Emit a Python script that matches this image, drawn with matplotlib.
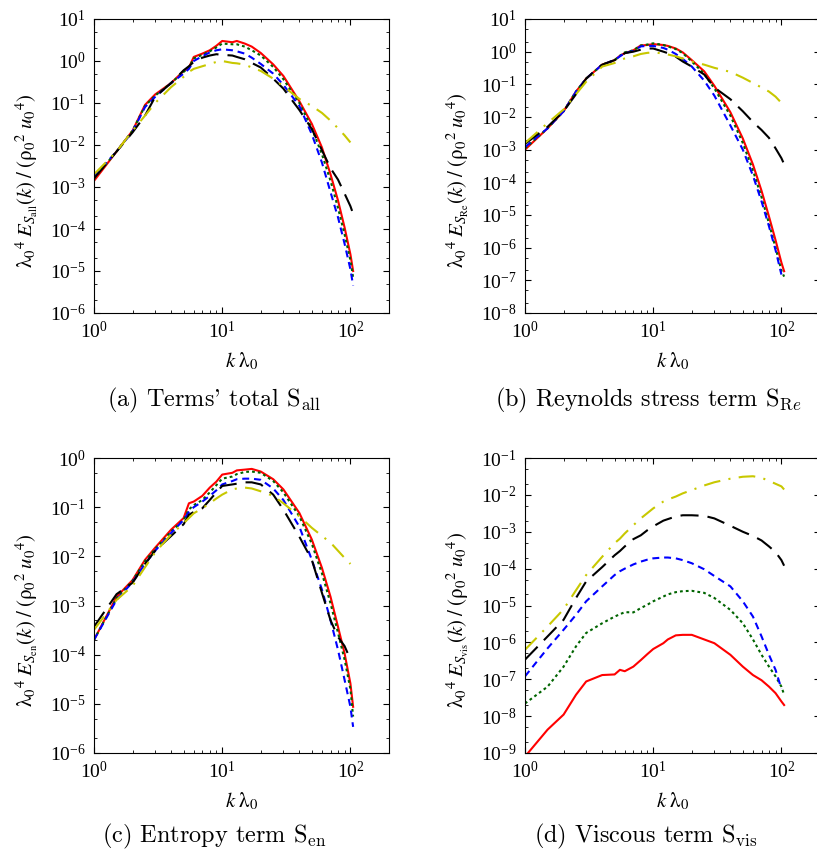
import numpy as np
import matplotlib
matplotlib.use("Agg")
import matplotlib.pyplot as plt
from matplotlib.ticker import LogLocator, LogFormatterMathtext, NullFormatter

plt.rcParams["font.family"] = "serif"
plt.rcParams["font.serif"] = ["Liberation Serif", "DejaVu Serif"]
plt.rcParams["mathtext.fontset"] = "stix"
plt.rcParams["lines.scale_dashes"] = False

# ── Data ─────────────────────────────────────────────────────────────────────
K = [1, 1.5, 2, 2.5, 3, 4, 5, 5.5, 6, 7, 8, 9, 10, 12, 13, 15, 17, 20,
     25, 30, 40, 50, 60, 70, 80, 90, 100, 105]
nan = np.nan

# (a) terms' total
a_red = [1.4e-3, 7e-3, 0.022, 0.09, 0.16, 0.3, 0.58, 0.7, 1.25, 1.5, 1.8, 2.3, 3.0, 2.8,
         3.0, 2.6, 2.2, 1.55, 0.83, 0.44, 0.11, 0.032, 8.7e-3, 2e-3, 4.8e-4, 1.1e-4, 2.5e-5, 1e-5]
a_green = [1.6e-3, 7e-3, 0.022, 0.085, 0.15, 0.3, 0.55, 0.7, 1.15, 1.4, 1.7, 2.1, 2.6, 2.5,
           2.5, 2.2, 1.8, 1.35, 0.72, 0.37, 0.1, 0.025, 6e-3, 1.4e-3, 3.2e-4, 7.5e-5, 1.8e-5, 7e-6]
a_blue = [1.8e-3, 7e-3, 0.021, 0.08, 0.14, 0.3, 0.5, 0.65, 1.0, 1.3, 1.6, 1.8, 1.9, 1.8,
          1.7, 1.5, 1.2, 0.85, 0.5, 0.27, 0.085, 0.018, 3.8e-3, 7.5e-4, 1.9e-4, 4.5e-5, 1.1e-5, 4.5e-6]
a_black = [1.6e-3, 7e-3, 0.02, 0.05, 0.14, 0.3, 0.6, 0.75, 0.95, 1.2, 1.35, 1.45, 1.4, 1.35,
           1.25, 1.1, 0.9, 0.7, 0.38, 0.22, 0.068, 0.024, 7.5e-3, 2.8e-3, 1.5e-3, 7e-4, 3.5e-4, 2.3e-4]
a_yellow = [2e-3, 7e-3, 0.022, 0.05, 0.1, 0.24, 0.42, 0.55, 0.65, 0.75, 0.85, 0.95, 1.0, 0.9,
            0.88, 0.82, 0.7, 0.58, 0.38, 0.25, 0.125, 0.085, 0.058, 0.038, 0.025, 0.017, 0.0115, nan]

# (b) Reynolds stress term
b_red = [1e-3, 4.5e-3, 0.015, 0.06, 0.15, 0.4, 0.55, 0.75, 0.9, 1.1, 1.55, 1.6, 1.7, 1.6,
         1.5, 1.25, 0.95, 0.55, 0.25, 0.09, 0.014, 2.2e-3, 3.5e-4, 5.5e-5, 9e-6, 1.7e-6, 3.5e-7, 1.9e-7]
b_green = [1.1e-3, 4.5e-3, 0.015, 0.06, 0.15, 0.4, 0.55, 0.75, 0.95, 1.1, 1.55, 1.65, 1.8, 1.6,
           1.45, 1.2, 0.9, 0.5, 0.21, 0.075, 0.011, 1.6e-3, 2.3e-4, 3.5e-5, 5.5e-6, 1e-6, 2e-7, 1.3e-7]
b_blue = [1.2e-3, 4.5e-3, 0.015, 0.06, 0.15, 0.4, 0.55, 0.72, 0.9, 1.05, 1.45, 1.5, 1.5, 1.3,
          1.15, 0.85, 0.6, 0.35, 0.13, 0.045, 5.5e-3, 1e-3, 1.6e-4, 2.6e-5, 4.5e-6, 8.5e-7, 1.5e-7, nan]
b_black = [1.5e-3, 5e-3, 0.015, 0.05, 0.15, 0.4, 0.55, 0.7, 0.9, 1.0, 1.15, 1.25, 1.25, 1.0,
           0.9, 0.7, 0.5, 0.35, 0.2, 0.08, 0.035, 0.015, 7e-3, 4e-3, 2.3e-3, 1.1e-3, 5.5e-4, 3.6e-4]
b_yellow = [1.6e-3, 6.5e-3, 0.017, 0.05, 0.12, 0.35, 0.45, 0.55, 0.62, 0.72, 0.85, 0.92, 0.95, 0.88,
            0.82, 0.72, 0.62, 0.5, 0.4, 0.32, 0.24, 0.16, 0.11, 0.08, 0.06, 0.042, 0.027, nan]

# (c) entropy term
c_red = [2e-4, 1.5e-3, 3.3e-3, 8.5e-3, 0.015, 0.035, 0.06, 0.12, 0.13, 0.17, 0.25, 0.33, 0.46, 0.5,
         0.56, 0.58, 0.6, 0.53, 0.37, 0.23, 0.076, 0.022, 5.8e-3, 1.5e-3, 3.7e-4, 1.07e-4, 2.6e-5, 8.7e-6]
c_green = [2e-4, 1.4e-3, 3.2e-3, 8e-3, 0.014, 0.032, 0.055, 0.09, 0.11, 0.14, 0.2, 0.28, 0.38, 0.42,
           0.47, 0.52, 0.53, 0.5, 0.34, 0.2, 0.065, 0.018, 4.5e-3, 1.1e-3, 2.8e-4, 8e-5, 2e-5, 5.5e-6]
c_blue = [2e-4, 1.3e-3, 3e-3, 7e-3, 0.013, 0.03, 0.055, 0.08, 0.1, 0.13, 0.17, 0.22, 0.29, 0.34,
          0.37, 0.38, 0.38, 0.36, 0.24, 0.14, 0.04, 8.5e-3, 2.1e-3, 5e-4, 1.26e-4, 3.1e-5, 8.7e-6, 3.4e-6]
c_black = [3.7e-4, 1.7e-3, 2.9e-3, 7e-3, 0.013, 0.026, 0.045, 0.07, 0.08, 0.095, 0.14, 0.2, 0.27, 0.29,
           0.3, 0.32, 0.32, 0.29, 0.18, 0.089, 0.025, 8.5e-3, 1.8e-3, 5e-4, 2.3e-4, 1.5e-4, 8e-5, nan]
c_yellow = [3.2e-4, 1.3e-3, 2.5e-3, 6e-3, 0.012, 0.028, 0.047, 0.06, 0.075, 0.095, 0.12, 0.15, 0.18, 0.23,
            0.24, 0.25, 0.24, 0.21, 0.17, 0.12, 0.065, 0.038, 0.026, 0.019, 0.013, 9.3e-3, 7e-3, nan]

# (d) viscous term
d_red = [8e-10, 4.3e-9, 1.1e-8, 3.8e-8, 8.7e-8, 1.3e-7, 1.35e-7, 1.8e-7, 1.65e-7, 2.2e-7, 3.3e-7, 4.8e-7,
         6.6e-7, 9.5e-7, 1.2e-6, 1.55e-6, 1.6e-6, 1.6e-6, 1.2e-6, 9.5e-7, 4.6e-7, 2.2e-7, 1.3e-7, 9.4e-8,
         6.3e-8, 4.2e-8, 2.5e-8, 2e-8]
d_green = [2.2e-8, 6.3e-8, 2.2e-7, 7.8e-7, 1.8e-6, 3.3e-6, 5e-6, 5.8e-6, 6.6e-6, 6.5e-6, 8.5e-6, 1.05e-5,
           1.3e-5, 1.75e-5, 2e-5, 2.3e-5, 2.45e-5, 2.5e-5, 2.2e-5, 1.6e-5, 7.6e-6, 3.3e-6, 1.2e-6, 4.6e-7,
           2.2e-7, 1.2e-7, 6.3e-8, 3.8e-8]
d_blue = [1.2e-7, 6.9e-7, 2.2e-6, 5.6e-6, 1.3e-5, 3.3e-5, 6.7e-5, 8.5e-5, 1e-4, 1.3e-4, 1.55e-4, 1.75e-4,
          1.9e-4, 2e-4, 2e-4, 1.9e-4, 1.7e-4, 1.4e-4, 9.6e-5, 6.3e-5, 3.3e-5, 1.3e-5, 5e-6, 1.45e-6,
          4.6e-7, 1.8e-7, 5.5e-8, nan]
d_black = [3.4e-7, 1.45e-6, 4.1e-6, 1.6e-5, 4.5e-5, 1.1e-4, 2.3e-4, 3e-4, 4e-4, 6.3e-4, 8e-4, 1.1e-3,
           1.4e-3, 2e-3, 2.2e-3, 2.6e-3, 2.8e-3, 2.8e-3, 2.7e-3, 2.3e-3, 1.45e-3, 1e-3, 7.7e-4, 5.8e-4,
           4e-4, 2.8e-4, 1.7e-4, 1.2e-4]
d_yellow = [6.3e-7, 2.7e-6, 7.9e-6, 2.6e-5, 6.7e-5, 2.1e-4, 4.9e-4, 6.5e-4, 9e-4, 1.5e-3, 2.3e-3, 3.2e-3,
            4.3e-3, 6.6e-3, 7.5e-3, 9e-3, 1.1e-2, 1.35e-2, 1.8e-2, 2.2e-2, 2.75e-2, 3.1e-2, 3.2e-2, 2.9e-2,
            2.4e-2, 2e-2, 1.7e-2, 1.4e-2]

YLIMS = [(1e-6, 1e1), (1e-8, 1e1), (1e-6, 1e0), (1e-9, 1e-1)]
SUBS = [r"\mathrm{all}", r"\mathrm{Re}", r"\mathrm{en}", r"\mathrm{vis}"]
CAPTIONS = [r"(a) Terms' total S$_{\mathrm{all}}$",
            r"(b) Reynolds stress term S$_{\mathrm{R}e}$",
            r"(c) Entropy term S$_{\mathrm{en}}$",
            r"(d) Viscous term S$_{\mathrm{vis}}$"]

# line styles: red solid, green dotted, blue dashed, black long dash, yellow dash-dot
STYLES = [
    dict(color="#ff0000", dashes=()),
    dict(color="#006400", dashes=(2.0, 2.2)),
    dict(color="#0000ff", dashes=(5.0, 3.5)),
    dict(color="#000000", dashes=(13.0, 6.5)),
    dict(color="#c8c800", dashes=(12.0, 6.0, 1.5, 6.0)),
]

PANELS = [
    [a_red, a_green, a_blue, a_black, a_yellow],
    [b_red, b_green, b_blue, b_black, b_yellow],
    [c_red, c_green, c_blue, c_black, c_yellow],
    [d_red, d_green, d_blue, d_black, d_yellow],
]

W, H = 817, 850
fig = plt.figure(figsize=(W / 100, H / 100), dpi=100)

# axes boxes in pixels: left, top, right, bottom
BOXES = [(94, 19, 389, 313), (525, 19, 820, 313), (94, 458, 389, 753), (525, 458, 820, 753)]
CAP_POS = [(214, 400), (648, 400), (214, 836), (646, 836)]

for i, (series, box) in enumerate(zip(PANELS, BOXES)):
    l, t, r, b = box
    ax = fig.add_axes([l / W, 1 - b / H, (r - l) / W, (b - t) / H])
    for vals, st in zip(series, STYLES):
        line, = ax.plot(K, vals, color=st["color"], lw=1.5)
        if st["dashes"]:
            line.set_dashes(st["dashes"])
    ax.set_xscale("log")
    ax.set_yscale("log")
    ax.set_xlim(1, 200)
    ax.set_ylim(*YLIMS[i])

    ax.xaxis.set_major_locator(LogLocator(base=10, numticks=10))
    ax.xaxis.set_minor_locator(LogLocator(base=10, subs=np.arange(2, 10), numticks=20))
    ax.yaxis.set_major_locator(LogLocator(base=10, numticks=20))
    ax.yaxis.set_minor_locator(LogLocator(base=10, subs=(2, 5), numticks=20))
    ax.xaxis.set_major_formatter(LogFormatterMathtext())
    ax.yaxis.set_major_formatter(LogFormatterMathtext())
    ax.xaxis.set_minor_formatter(NullFormatter())
    ax.yaxis.set_minor_formatter(NullFormatter())
    ax.tick_params(which="both", direction="in", top=True, right=True, labelsize=14)
    ax.tick_params(which="major", length=4.5, width=0.8, pad=6)
    ax.tick_params(which="minor", length=2.5, width=0.6)
    for sp in ax.spines.values():
        sp.set_linewidth(0.8)

    ax.set_xlabel(r"$k\;\mathrm{\lambda}_0$", fontsize=15, labelpad=6)
    ax.set_ylabel(r"$\mathrm{\lambda}_0{}^4\;E_{S_{%s}}(k)\;/\;(\mathrm{\rho}_0{}^2\;u_0{}^4)$" % SUBS[i],
                  fontsize=15)
    ax.yaxis.set_label_coords(-54 / (r - l), 0.45)

    cx, cy = CAP_POS[i]
    fig.text(cx / W, 1 - cy / H, CAPTIONS[i], ha="center", va="center", fontsize=17.5,
             family="cmr10", math_fontfamily="cm")

fig.savefig("out.png", dpi=100)
